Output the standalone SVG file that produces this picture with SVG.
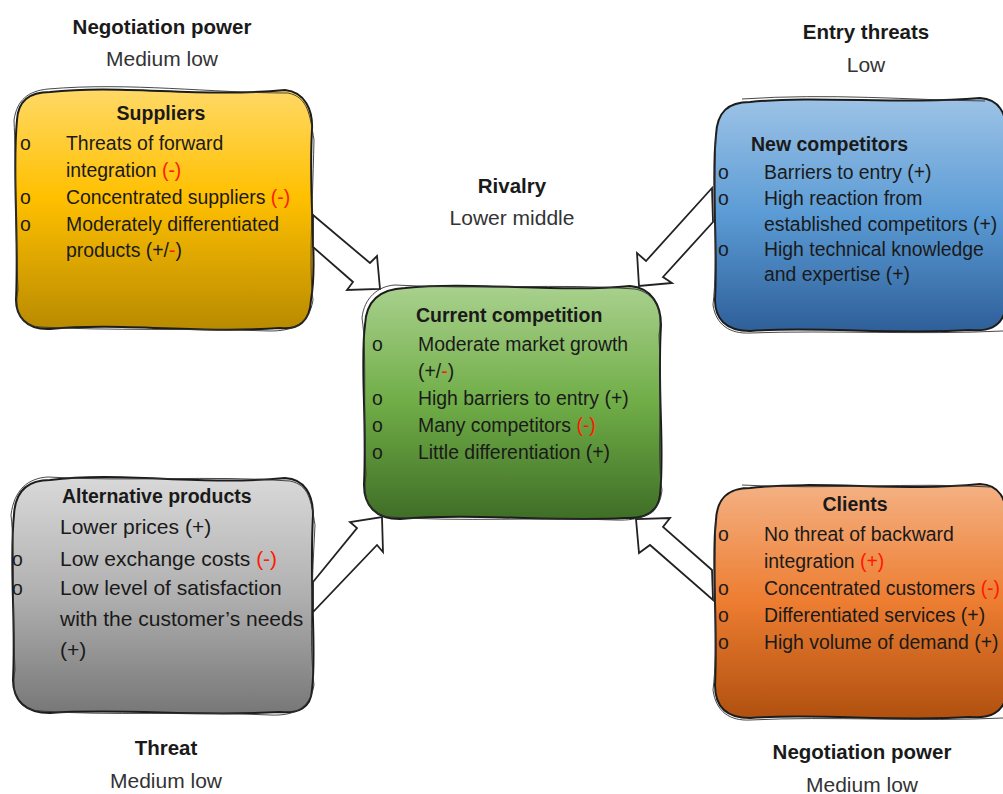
<svg xmlns="http://www.w3.org/2000/svg" width="1003" height="794" viewBox="0 0 1003 794">
<defs>
<linearGradient id="gY" x1="0" y1="0" x2="0" y2="1"><stop offset="0" stop-color="#FFD966"/><stop offset="0.45" stop-color="#FFC000"/><stop offset="1" stop-color="#B88A00"/></linearGradient>
<linearGradient id="gB" x1="0" y1="0" x2="0" y2="1"><stop offset="0" stop-color="#9DC3E6"/><stop offset="0.5" stop-color="#5B9BD5"/><stop offset="1" stop-color="#2E5F99"/></linearGradient>
<linearGradient id="gG" x1="0" y1="0" x2="0" y2="1"><stop offset="0" stop-color="#A9D18E"/><stop offset="0.5" stop-color="#70AD47"/><stop offset="1" stop-color="#3F6E26"/></linearGradient>
<linearGradient id="gS" x1="0" y1="0" x2="0" y2="1"><stop offset="0" stop-color="#D9D9D9"/><stop offset="0.5" stop-color="#B0B0B0"/><stop offset="1" stop-color="#777777"/></linearGradient>
<linearGradient id="gO" x1="0" y1="0" x2="0" y2="1"><stop offset="0" stop-color="#F4B183"/><stop offset="0.5" stop-color="#ED7D31"/><stop offset="1" stop-color="#B0500F"/></linearGradient>
</defs>
<style>
.box{stroke:#1c1c1c;stroke-width:2;stroke-linejoin:round}
.sk{fill:none;stroke:#333;stroke-width:0.9}
.arr{fill:#fff;stroke:#222;stroke-width:1.8;stroke-linejoin:miter}
text{font-family:"Liberation Sans",Arial,sans-serif;fill:#1a1a1a}
.t{font-size:19.4px}
.h{font-size:19.5px;font-weight:bold}
.lb{font-size:20.5px;font-weight:bold;text-anchor:middle}
.lv{font-size:21px;text-anchor:middle;fill:#333}
.a{font-size:21px}
.r{fill:#FF1A00}
</style>

<g id="labels">
<text class="lb" x="162" y="34">Negotiation power</text>
<text class="lv" x="162" y="66">Medium low</text>
<text class="lb" x="866" y="39">Entry threats</text>
<text class="lv" x="866" y="72">Low</text>
<text class="lb" x="512" y="193">Rivalry</text>
<text class="lv" x="512" y="225">Lower middle</text>
<text class="lb" x="166" y="755">Threat</text>
<text class="lv" x="166" y="788">Medium low</text>
<text class="lb" x="862" y="759">Negotiation power</text>
<text class="lv" x="862" y="792">Medium low</text>
</g>

<g id="suppliers">
<path class="box" fill="url(#gY)" d="M50,92 C120,84 200,98 285,90 C305,92 313,110 312,130 C308,200 318,260 311,300 C310,322 298,330 280,328 C200,334 120,322 50,329 C25,330 16,315 16,300 C19,230 12,170 17,120 C18,100 30,92 50,92 Z"/>
<path class="sk" d="M48,89 C130,82 210,93 288,93 C308,97 310,115 314,140 C312,220 309,270 313,300 C309,326 290,331 270,331 C190,328 110,331 40,327 C20,326 14,310 18,290 C15,220 16,160 14,120 C17,100 28,91 48,89"/>
<text class="h" x="161" y="120" text-anchor="middle">Suppliers</text>
<text class="t" x="20" y="150">o</text>
<text class="t" x="66" y="150">Threats of forward</text>
<text class="t" x="66" y="177">integration <tspan class="r">(-)</tspan></text>
<text class="t" x="20" y="204">o</text>
<text class="t" x="66" y="204">Concentrated suppliers <tspan class="r">(-)</tspan></text>
<text class="t" x="20" y="231">o</text>
<text class="t" x="66" y="231">Moderately differentiated</text>
<text class="t" x="66" y="257">products (+/<tspan class="r">-</tspan>)</text>
</g>

<g id="new-competitors">
<path class="box" fill="url(#gB)" d="M750,102 C820,95 900,105 980,98 C1000,99 1006,115 1006,130 L1006,305 C1004,325 990,332 970,330 C900,335 810,326 750,331 C725,331 715,318 715,300 C718,240 711,180 716,135 C717,112 728,102 750,102 Z"/>
<path class="sk" d="M742,99 C830,93 910,100 985,101 M716,135 C713,200 718,260 713,305 C716,325 730,334 750,333 C830,330 920,335 1003,331"/>
<text class="h" x="751" y="151">New competitors</text>
<text class="t" x="718" y="179">o</text>
<text class="t" x="764" y="179">Barriers to entry (+)</text>
<text class="t" x="718" y="205">o</text>
<text class="t" x="764" y="205">High reaction from</text>
<text class="t" x="764" y="231">established competitors (+)</text>
<text class="t" x="718" y="256">o</text>
<text class="t" x="764" y="256">High technical knowledge</text>
<text class="t" x="764" y="281">and expertise (+)</text>
</g>

<g id="current-competition">
<path class="box" fill="url(#gG)" d="M405,288 C470,281 560,293 630,286 C652,288 661,305 661,325 C657,390 665,450 660,495 C658,512 645,519 625,518 C560,522 470,513 400,519 C375,519 364,505 364,485 C367,420 360,360 365,325 C366,300 380,289 405,288 Z"/>
<path class="sk" d="M395,285 C480,290 560,283 635,289 C655,293 663,310 659,335 C662,400 657,460 662,490 C660,515 640,521 615,520 C540,517 460,522 390,517 C370,515 362,500 366,475 C363,410 367,350 362,318 C364,298 378,286 395,285"/>
<text class="h" x="416" y="322">Current competition</text>
<text class="t" x="372" y="351">o</text>
<text class="t" x="418" y="351">Moderate market growth</text>
<text class="t" x="418" y="378">(+/<tspan class="r">-</tspan>)</text>
<text class="t" x="372" y="405">o</text>
<text class="t" x="418" y="405">High barriers to entry (+)</text>
<text class="t" x="372" y="432">o</text>
<text class="t" x="418" y="432">Many competitors <tspan class="r">(-)</tspan></text>
<text class="t" x="372" y="459">o</text>
<text class="t" x="418" y="459">Little differentiation (+)</text>
</g>

<g id="alternative-products">
<path class="box" fill="url(#gS)" d="M50,480 C120,471 200,486 285,478 C305,479 313,495 313,515 C309,590 317,650 312,690 C311,708 298,714 280,712 C200,717 120,708 50,713 C25,713 13,700 13,680 C16,620 9,560 14,515 C15,492 27,480 50,480 Z"/>
<path class="sk" d="M48,477 C130,482 210,475 290,481 C309,485 311,500 315,525 C311,600 310,650 314,685 C310,710 292,716 270,715 C190,711 110,716 40,711 C18,710 11,695 15,670 C12,600 15,550 11,515 C14,490 28,478 48,477"/>
<text class="h" x="62" y="503">Alternative products</text>
<text class="a" x="60" y="534">Lower prices (+)</text>
<text class="t" x="12" y="566">o</text>
<text class="a" x="60" y="566">Low exchange costs <tspan class="r">(-)</tspan></text>
<text class="t" x="12" y="595">o</text>
<text class="a" x="60" y="595">Low level of satisfaction</text>
<text class="a" x="60" y="626">with the customer’s needs</text>
<text class="a" x="60" y="657">(+)</text>
</g>

<g id="clients">
<path class="box" fill="url(#gO)" d="M750,488 C820,480 900,492 980,484 C1000,485 1006,500 1006,515 L1006,695 C1004,712 990,719 970,717 C900,722 810,713 750,718 C725,718 715,705 715,685 C718,620 711,560 716,520 C717,498 728,488 750,488 Z"/>
<path class="sk" d="M742,485 C830,490 910,482 990,487 M716,520 C713,590 718,650 713,690 C716,712 730,721 750,720 C830,716 920,722 1003,718"/>
<text class="h" x="855" y="511" text-anchor="middle">Clients</text>
<text class="t" x="718" y="541">o</text>
<text class="t" x="764" y="541">No threat of backward</text>
<text class="t" x="764" y="568">integration <tspan class="r">(+)</tspan></text>
<text class="t" x="718" y="595">o</text>
<text class="t" x="764" y="595">Concentrated customers <tspan class="r">(-)</tspan></text>
<text class="t" x="718" y="622">o</text>
<text class="t" x="764" y="622">Differentiated services (+)</text>
<text class="t" x="718" y="649">o</text>
<text class="t" x="764" y="649">High volume of demand (+)</text>
</g>

<g id="connectors">
<polygon class="arr" points="313,215 370,263 377,256 380,289 347,290 353,282 313,247"/>
<polygon class="arr" points="712,188 646,261 637,253 639,286 672,283 663,277 713,222"/>
<polygon class="arr" points="313,582 357,528 350,522 382,517 383,552 377,545 313,612"/>
<polygon class="arr" points="712,570 663,527 670,518 636,519 639,553 650,545 713,600"/>
</g>
</svg>
